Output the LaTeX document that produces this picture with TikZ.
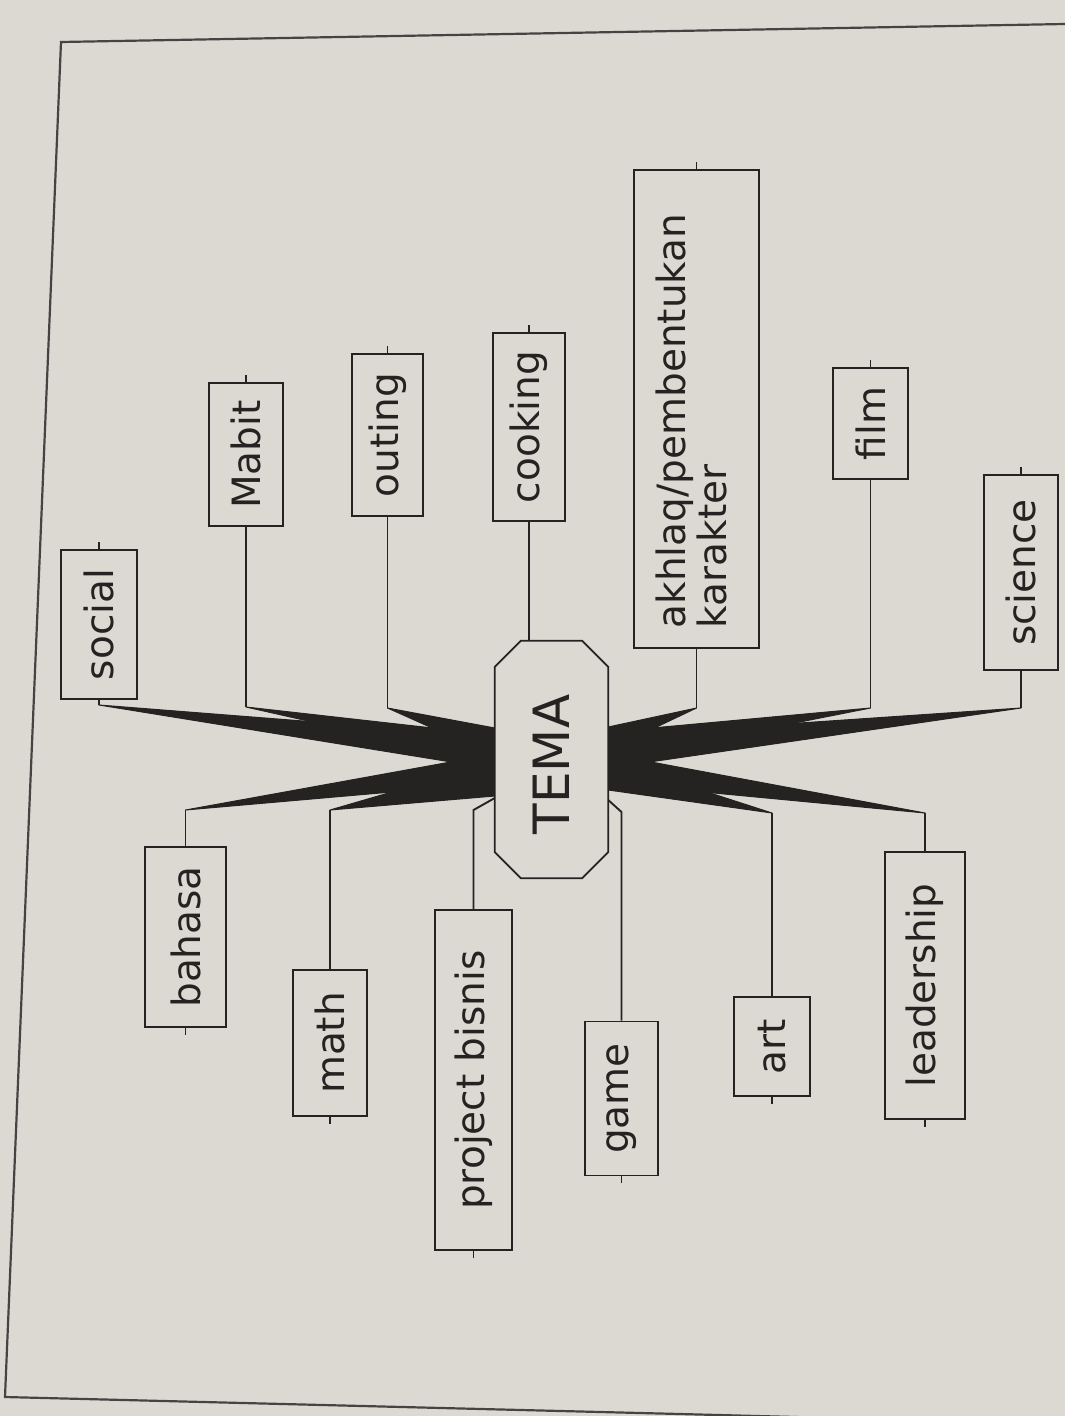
\documentclass[tikz,border=0pt]{standalone}
\usepackage{fontspec}
\setmainfont{DejaVu Sans}
\definecolor{paper}{RGB}{220,217,211}
\definecolor{ink}{RGB}{36,35,34}
\tikzset{
  box/.style={draw=ink, line width=1.7pt, rectangle, inner sep=0pt, fill=paper,
    font=\fontsize{39}{36}\selectfont, text=ink},
  link/.style={draw=ink, line width=1.9pt, line join=miter},
  spike/.style={fill=ink, draw=ink, line width=1pt, line join=round},
  pageframe/.style={draw=ink!85, line width=2.2pt},
  octa/.style={draw=ink, line width=1.7pt, fill=paper}
}
\begin{document}
\begin{tikzpicture}[x=1pt,y=1pt]
\fill[paper] (0,0) rectangle (1065,-1416);
\useasboundingbox (0,0) rectangle (1065,-1416);

% page frame
\draw[pageframe] (1065,-24) -- (61,-42) -- (5,-1397) -- (680,-1414) -- (1065,-1424);

% centre
\node[minimum width=113, minimum height=237, inner sep=0pt] (tema) at (551.5,-759.5) {};

% boxes
\node[box, minimum width=76,  minimum height=149] (social)  at (99,-624.5)   {\rotatebox{90}{social}};
\node[box, minimum width=74,  minimum height=143] (mabit)   at (246,-454.5)  {\rotatebox{90}{Mabit}};
\node[box, minimum width=71,  minimum height=162] (outing)  at (387.5,-435)  {\rotatebox{90}{outing}};
\node[box, minimum width=72,  minimum height=188] (cooking) at (529,-427)    {\rotatebox{90}{cooking}};
\node[box, minimum width=125, minimum height=478] (akhlaq)  at (696.5,-409)  {};
\node[font=\fontsize{39}{36}\selectfont, text=ink, inner sep=0pt] at ([yshift=-12pt]akhlaq.center)
  {\rotatebox{90}{\begin{tabular}{@{}l@{}}akhlaq/pembentukan\\karakter\end{tabular}}};
\node[box, minimum width=75,  minimum height=111] (film)    at (870.5,-423.5){\rotatebox{90}{film}};
\node[box, minimum width=74,  minimum height=195] (science) at (1021,-572.5) {\rotatebox{90}{science}};
\node[box, minimum width=81,  minimum height=180] (bahasa)  at (185.5,-937)  {\rotatebox{90}{bahasa}};
\node[box, minimum width=74,  minimum height=146] (math)    at (330,-1043)   {\rotatebox{90}{math}};
\node[box, minimum width=77,  minimum height=340] (project) at (473.5,-1080) {\rotatebox{90}{project bisnis}};
\node[box, minimum width=73,  minimum height=154] (game)    at (621.5,-1098.5){\rotatebox{90}{game}};
\node[box, minimum width=76,  minimum height=99]  (art)     at (772,-1046.5) {\rotatebox{90}{art}};
\node[box, minimum width=80,  minimum height=267] (leader)  at (925,-985.5)  {\rotatebox{90}{leadership}};

% stubs on the far sides
\foreach \b in {social,mabit,outing,cooking,akhlaq,film,science}
  \draw[link] (\b.north) -- ++(0,7);
\foreach \b in {bahasa,math,project,game,art,leader}
  \draw[link] (\b.south) -- ++(0,-7);

% elbows
\coordinate (eSocial)  at (99,-705);
\coordinate (eMabit)   at (246,-707);
\coordinate (eOuting)  at (387.5,-708);
\coordinate (eAkhlaq)  at (696.5,-708);
\coordinate (eFilm)    at (870.5,-708);
\coordinate (eScience) at (1021,-708);
\coordinate (eBahasa)  at (185.5,-810);
\coordinate (eMath)    at (330,-810);
\coordinate (eProject) at (473.5,-810);
\coordinate (eGame)    at (621.5,-812);
\coordinate (eArt)     at (772,-813);
\coordinate (eLeader)  at (925,-813);

% vertical links
\draw[link] (social.south)  -- (eSocial);
\draw[link] (mabit.south)   -- (eMabit);
\draw[link] (outing.south)  -- (eOuting);
\draw[link] (akhlaq.south)  -- (eAkhlaq);
\draw[link] (film.south)    -- (eFilm);
\draw[link] (science.south) -- (eScience);
\draw[link] (bahasa.north)  -- (eBahasa);
\draw[link] (math.north)    -- (eMath);
\draw[link] (art.north)     -- (eArt);
\draw[link] (leader.north)  -- (eLeader);
\draw[link] (project.north) -- (eProject) -- ([yshift=-38.5pt]tema.west);
\draw[link] (game.north)    -- (eGame)    -- ([yshift=-40.5pt]tema.east);
\draw[link] (cooking.south) -- (cooking.south |- tema.north);

% spikes, left
\fill[spike] (eSocial) -- ([yshift=23.5pt]tema.west) -- ([yshift=-9.5pt]tema.west)  -- cycle;
\fill[spike] (eMabit)  -- ([yshift=24.5pt]tema.west) -- ([yshift=-3.5pt]tema.west)  -- cycle;
\fill[spike] (eOuting) -- ([yshift=31.5pt]tema.west) -- ([yshift=3.5pt]tema.west)   -- cycle;
\fill[spike] (eBahasa) -- ([yshift=5.5pt]tema.west)  -- ([yshift=-23.5pt]tema.west) -- cycle;
\fill[spike] (eMath)   -- ([yshift=-2.5pt]tema.west) -- ([yshift=-36.5pt]tema.west) -- cycle;
% spikes, right
\fill[spike] (eAkhlaq)  -- ([yshift=32.5pt]tema.east) -- ([yshift=9.5pt]tema.east)   -- cycle;
\fill[spike] (eFilm)    -- ([yshift=27.5pt]tema.east) -- ([yshift=-0.5pt]tema.east)  -- cycle;
\fill[spike] (eScience) -- ([yshift=23.5pt]tema.east) -- ([yshift=-8.5pt]tema.east)  -- cycle;
\fill[spike] (eArt)     -- ([yshift=-0.5pt]tema.east) -- ([yshift=-30.5pt]tema.east) -- cycle;
\fill[spike] (eLeader)  -- ([yshift=5.5pt]tema.east)  -- ([yshift=-23.5pt]tema.east) -- cycle;

% octagon round TEMA
\draw[octa] ([xshift=26pt]tema.north west) -- ([xshift=-26pt]tema.north east)
  -- ([yshift=-26pt]tema.north east) -- ([yshift=26pt]tema.south east)
  -- ([xshift=-26pt]tema.south east) -- ([xshift=26pt]tema.south west)
  -- ([yshift=26pt]tema.south west) -- ([yshift=-26pt]tema.north west) -- cycle;
\node[inner sep=0pt, font=\fontsize{50}{50}\selectfont, text=ink] at ([yshift=-5pt]tema.center) {\rotatebox{90}{TEMA}};
\end{tikzpicture}
\end{document}
